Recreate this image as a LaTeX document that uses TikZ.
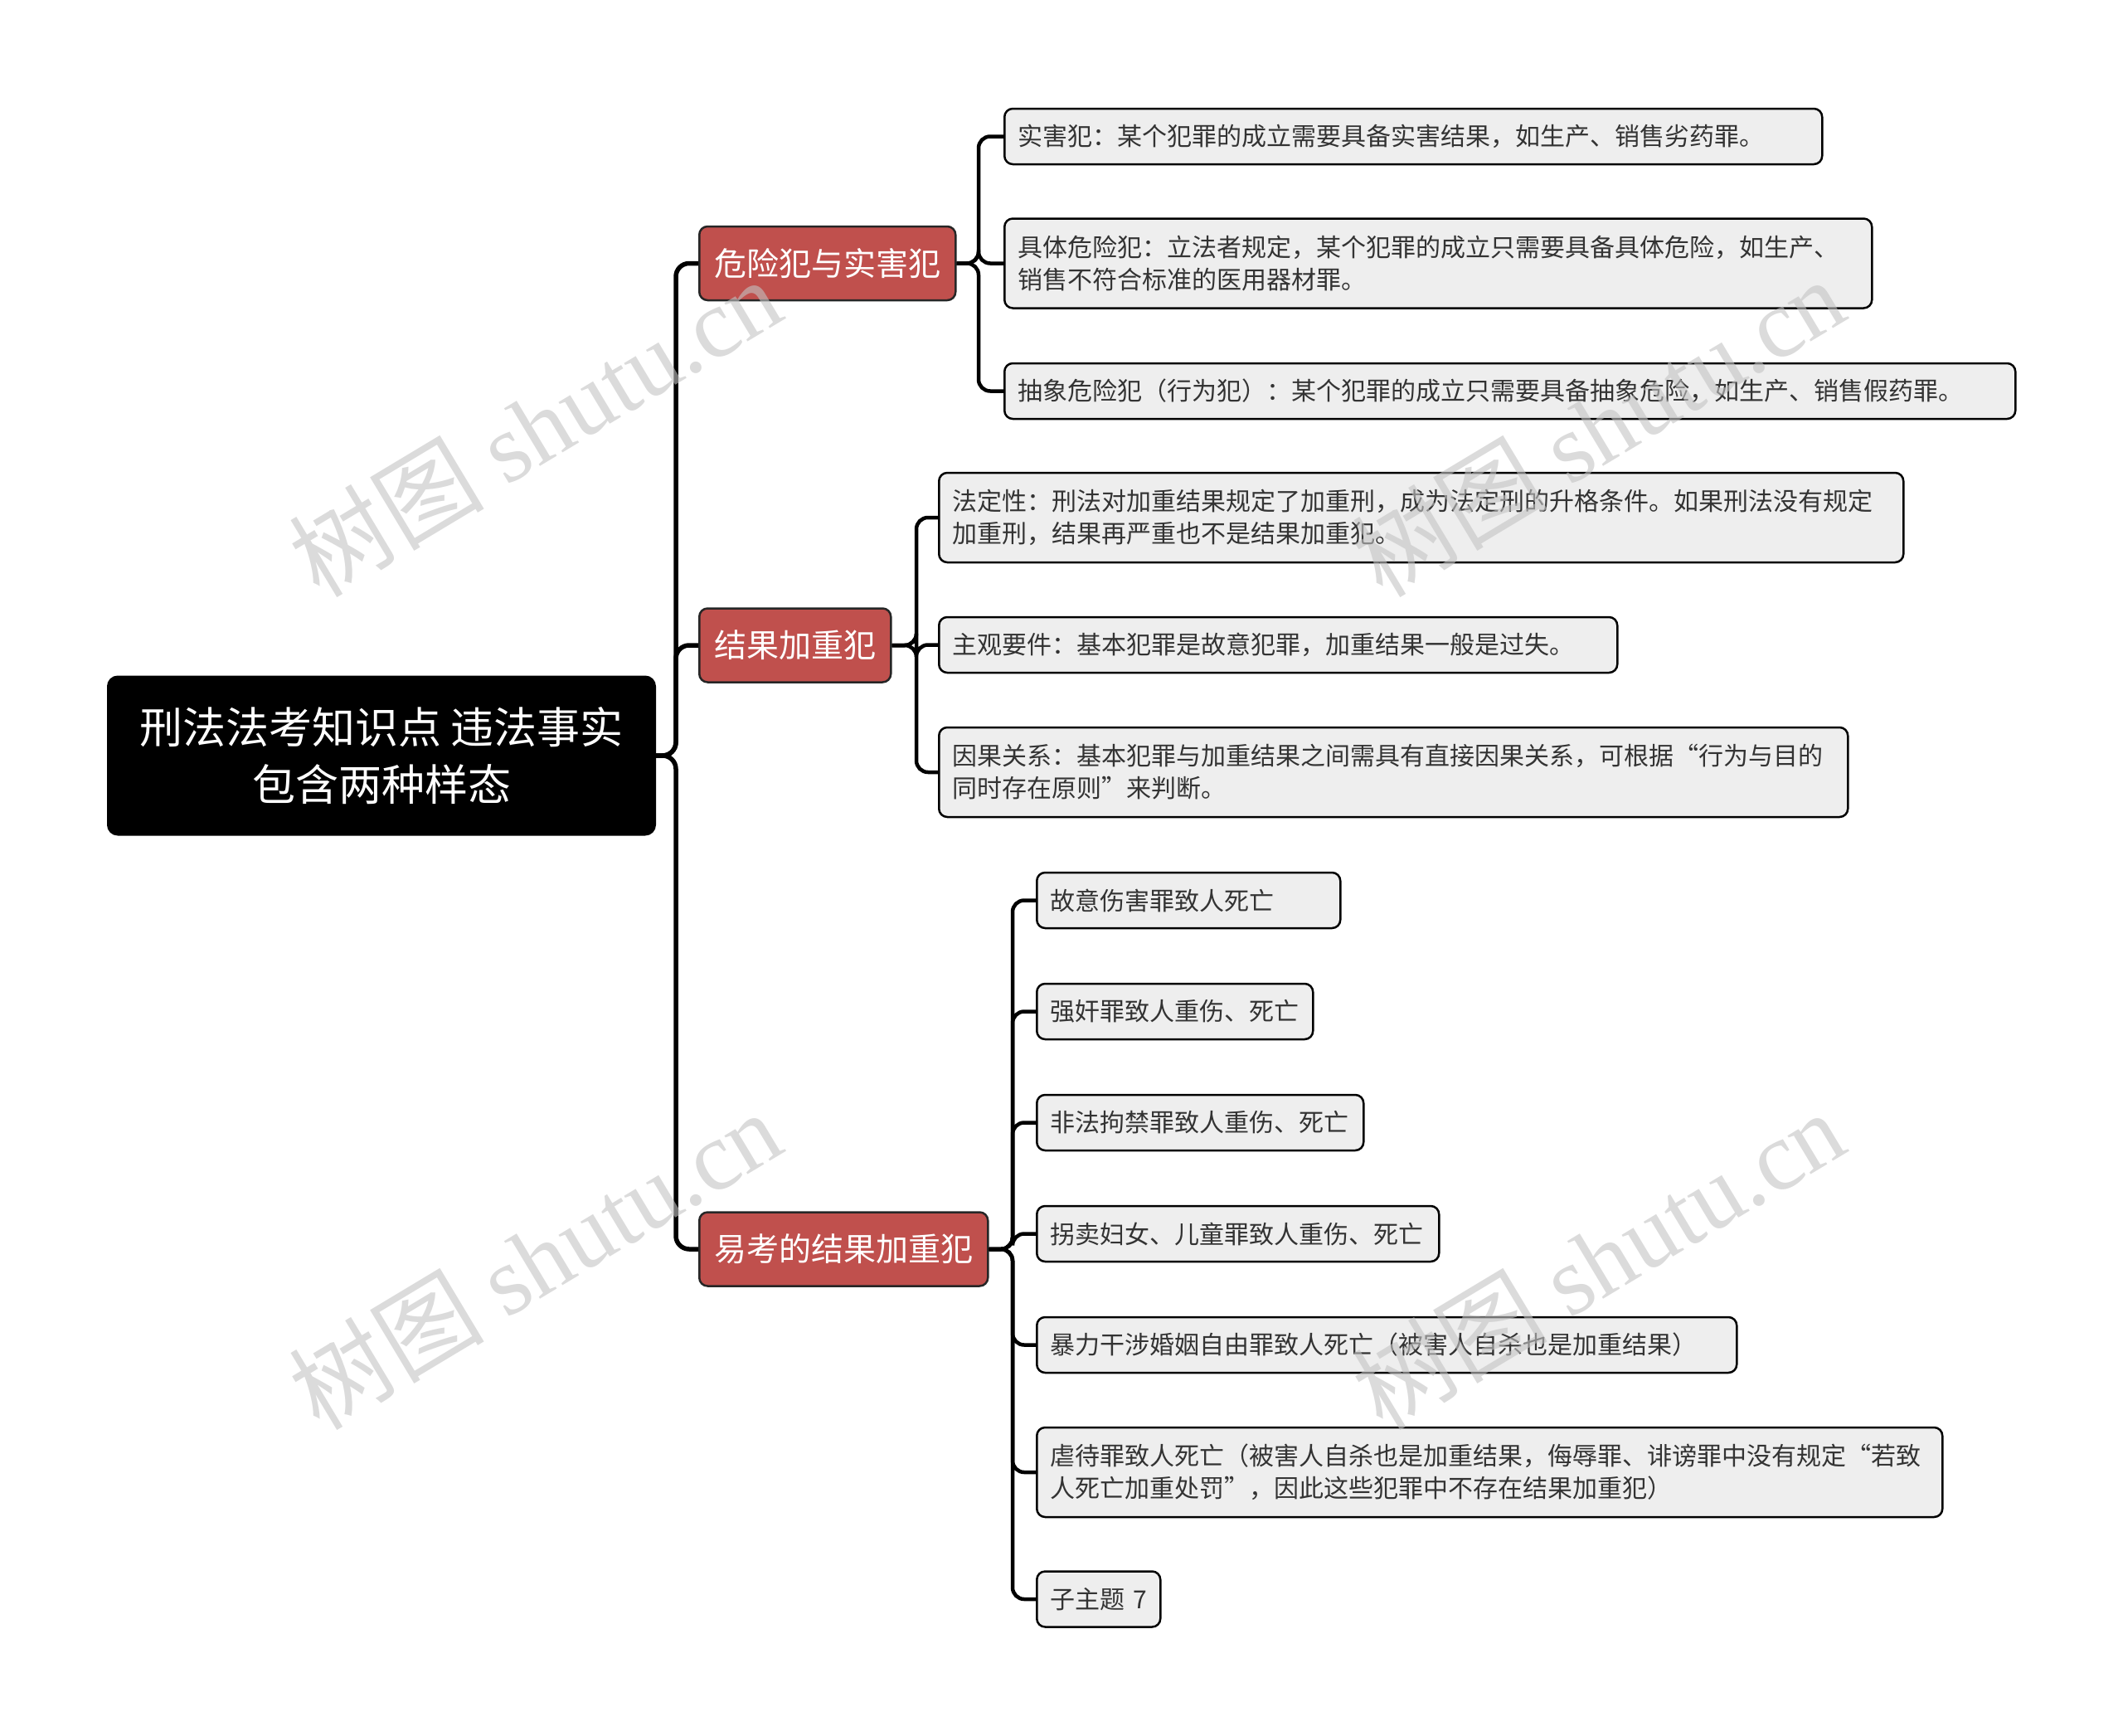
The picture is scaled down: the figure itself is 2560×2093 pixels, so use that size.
\documentclass[tikz,border=0pt]{standalone}
\usepackage{fontspec}
\setmainfont{Noto Sans CJK SC}
\newfontfamily\wmcjk{Noto Sans CJK SC}
\newfontfamily\wmlat{Liberation Serif}
\definecolor{lonered}{RGB}{192,80,77}
\definecolor{leafgray}{RGB}{238,238,238}
\definecolor{leaftext}{RGB}{51,51,51}
\definecolor{wmgray}{RGB}{195,195,195}
\tikzset{
  rootbox/.style={draw=black, fill=black, text=white, rounded corners=12pt, line width=2pt,
    font=\fontsize{52}{69}\selectfont, align=center, inner sep=0pt,
    minimum width=660pt, minimum height=191pt, anchor=west},
  lonebox/.style={draw=black!85, fill=lonered, text=white, rounded corners=10pt, line width=2.5pt,
    font=\fontsize{39}{46}\selectfont, inner xsep=18pt, inner ysep=0pt, minimum height=89pt, anchor=west},
  leafbox/.style={draw=black, fill=leafgray, text=leaftext, rounded corners=10pt, line width=2.5pt,
    font=\fontsize{30}{39}\selectfont, align=left, inner xsep=16pt, inner ysep=0pt, anchor=west},
  onel/.style={minimum height=67pt},
  twol/.style={minimum height=108pt},
  trunk/.style={draw=black, line width=5.5pt, rounded corners=16pt},
  branch/.style={draw=black, line width=4.5pt, rounded corners=14pt},
  wmark/.style={text=wmgray, opacity=0.6, rotate=31, font=\fontsize{118}{118}\selectfont, inner sep=0pt}
}
\begin{document}
\begin{tikzpicture}[x=1pt,y=-1pt]
\useasboundingbox (0,0) rectangle (2560,2093);
% root
\node[rootbox] (root) at (129,911) {刑法法考知识点 违法事实\\包含两种样态};
% level 1
\node[lonebox] (g1) at (842,317.5) {危险犯与实害犯};
\node[lonebox] (g2) at (842,778) {结果加重犯};
\node[lonebox] (g3) at (842,1506) {易考的结果加重犯};
% group 1 leaves
\node[leafbox,onel,text width=954pt] (a1) at (1210,164.5) {实害犯：某个犯罪的成立需要具备实害结果，如生产、销售劣药罪。};
\node[leafbox,twol,text width=1014pt] (a2) at (1210,317.5) {具体危险犯：立法者规定，某个犯罪的成立只需要具备具体危险，如生产、\\销售不符合标准的医用器材罪。};
\node[leafbox,onel,text width=1187pt] (a3) at (1210,471.5) {抽象危险犯（行为犯）：某个犯罪的成立只需要具备抽象危险，如生产、销售假药罪。};
% group 2 leaves
\node[leafbox,twol,text width=1131pt] (b1) at (1131,624) {法定性：刑法对加重结果规定了加重刑，成为法定刑的升格条件。如果刑法没有规定\\加重刑，结果再严重也不是结果加重犯。};
\node[leafbox,onel,text width=786pt] (b2) at (1131,777.5) {主观要件：基本犯罪是故意犯罪，加重结果一般是过失。};
\node[leafbox,twol,text width=1064pt] (b3) at (1131,931) {因果关系：基本犯罪与加重结果之间需具有直接因果关系，可根据“行为与目的\\同时存在原则”来判断。};
% group 3 leaves
\node[leafbox,onel,text width=334pt] (c1) at (1249,1085.5) {故意伤害罪致人死亡};
\node[leafbox,onel,text width=301pt] (c2) at (1249,1219.5) {强奸罪致人重伤、死亡};
\node[leafbox,onel,text width=362pt] (c3) at (1249,1353.5) {非法拘禁罪致人重伤、死亡};
\node[leafbox,onel,text width=453pt] (c4) at (1249,1487.5) {拐卖妇女、儿童罪致人重伤、死亡};
\node[leafbox,onel,text width=812pt] (c5) at (1249,1621.5) {暴力干涉婚姻自由罪致人死亡（被害人自杀也是加重结果）};
\node[leafbox,twol,text width=1060pt] (c6) at (1249,1775) {虐待罪致人死亡（被害人自杀也是加重结果，侮辱罪、诽谤罪中没有规定“若致\\人死亡加重处罚”，因此这些犯罪中不存在结果加重犯）};
\node[leafbox,onel,text width=117pt] (c7) at (1249,1928) {子主题 7};
% connectors level 1
\foreach \c in {g1,g2,g3}
  \draw[trunk] (root.east) -- (815,911) |- (\c.west);
% connectors level 2
\foreach \c in {a1,a2,a3}
  \draw[branch] (g1.east) -- (1180,317.5) |- (\c.west);
\foreach \c in {b1,b2,b3}
  \draw[branch] (g2.east) -- (1105,778) |- (\c.west);
\foreach \c in {c1,c2,c3,c4,c5,c6,c7}
  \draw[branch] (g3.east) -- (1221,1506) |- (\c.west);
% watermarks
\node[wmark] (w1) at (645,514) {\wmcjk 树图 \wmlat shutu.cn};
\node[wmark] (w2) at (1927,514) {\wmcjk 树图 \wmlat shutu.cn};
\node[wmark] (w3) at (645,1518) {\wmcjk 树图 \wmlat shutu.cn};
\node[wmark] (w4) at (1927,1518) {\wmcjk 树图 \wmlat shutu.cn};
\end{tikzpicture}
\end{document}
